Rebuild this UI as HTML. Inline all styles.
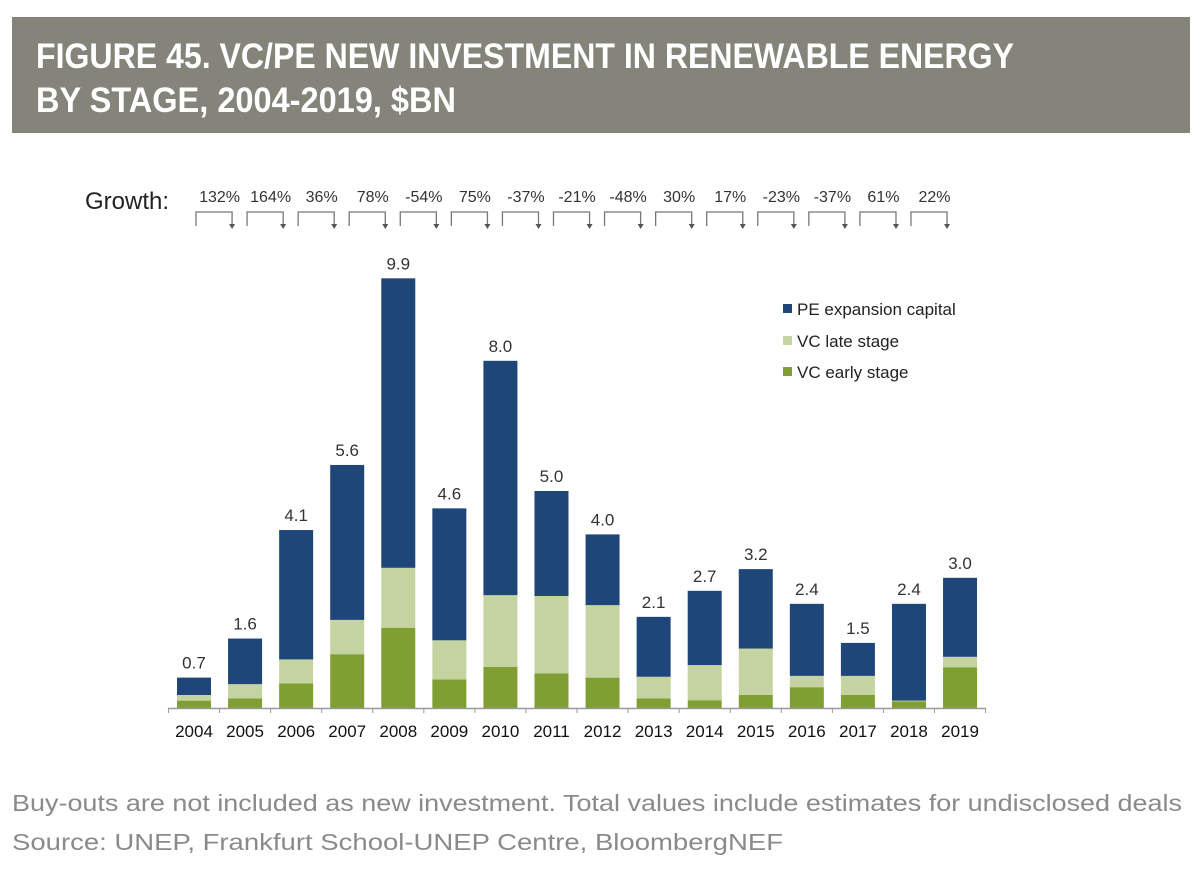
<!DOCTYPE html>
<html><head><meta charset="utf-8"><style>
body{margin:0;background:#fff;}
svg{display:block;font-family:"Liberation Sans",sans-serif;}
</style></head><body>
<svg id="chart" width="1202" height="876" viewBox="0 0 1202 876" xmlns="http://www.w3.org/2000/svg">
<rect x="12" y="17" width="1178" height="116" fill="#84847a"/>
<text x="36" y="68" fill="#fff" font-family="Liberation Sans Narrow, Liberation Sans, sans-serif" font-weight="bold" font-size="35" textLength="978" lengthAdjust="spacingAndGlyphs">FIGURE 45. VC/PE NEW INVESTMENT IN RENEWABLE ENERGY</text>
<text x="36" y="112" fill="#fff" font-family="Liberation Sans Narrow, Liberation Sans, sans-serif" font-weight="bold" font-size="35" textLength="420" lengthAdjust="spacingAndGlyphs">BY STAGE, 2004-2019, $BN</text>
<text x="85" y="209" font-size="24" fill="#222">Growth:</text>
<g id="growth"></g>
<g id="bars"></g>
<g id="axis"></g>
<g>
 <rect x="783" y="304" width="9" height="9" fill="#1f4678"/>
 <text x="797" y="315" font-size="17" fill="#222">PE expansion capital</text>
 <rect x="783" y="336" width="9" height="9" fill="#c5d3a0"/>
 <text x="797" y="347" font-size="17" fill="#222">VC late stage</text>
 <rect x="783" y="367" width="9" height="9" fill="#7f9f32"/>
 <text x="797" y="378" font-size="17" fill="#222">VC early stage</text>
</g>
<text x="12" y="811" font-size="23" fill="#8a8a8a" textLength="1170" lengthAdjust="spacingAndGlyphs">Buy-outs are not included as new investment. Total values include estimates for undisclosed deals</text>
<text x="12" y="850" font-size="23" fill="#8a8a8a" textLength="771" lengthAdjust="spacingAndGlyphs">Source: UNEP, Frankfurt School-UNEP Centre, BloombergNEF</text>
</svg>
<script>
const years=["2004","2005","2006","2007","2008","2009","2010","2011","2012","2013","2014","2015","2016","2017","2018","2019"];
const early=[0.17,0.22,0.57,1.24,1.85,0.66,0.95,0.8,0.7,0.22,0.18,0.3,0.48,0.3,0.15,0.94];
const late=[0.13,0.33,0.55,0.79,1.38,0.9,1.65,1.78,1.67,0.5,0.81,1.07,0.26,0.44,0.02,0.24];
const pe=[0.4,1.05,2.98,3.57,6.67,3.04,5.4,2.42,1.63,1.38,1.71,1.83,1.66,0.76,2.23,1.82];
const totals=["0.7","1.6","4.1","5.6","9.9","4.6","8.0","5.0","4.0","2.1","2.7","3.2","2.4","1.5","2.4","3.0"];
const growth=["132%","164%","36%","78%","-54%","75%","-37%","-21%","-48%","30%","17%","-23%","-37%","61%","22%"];
const NS="http://www.w3.org/2000/svg";
const base=708,k=43.4,x0=194,step=51.07,bw=34;
const X=i=>x0+i*step, Y=v=>base-v*k;
function mk(tag,attrs,parent){const e=document.createElementNS(NS,tag);for(const a in attrs)e.setAttribute(a,attrs[a]);parent.appendChild(e);return e;}
const gb=document.getElementById('bars'),ga=document.getElementById('axis'),gg=document.getElementById('growth');
const cols=["#7f9f32","#c5d3a0","#1f4678"],names=["early","late","pe"];
years.forEach((yr,i)=>{
 const segs=[early[i],late[i],pe[i]];let acc=0;
 segs.forEach((v,s)=>{
  const r=mk('rect',{x:X(i)-bw/2,y:Y(acc+v),width:bw,height:v*k,fill:cols[s]},gb);
  
  
  acc+=v;
 });
 const t=mk('text',{x:X(i),y:Y(acc)-9,'text-anchor':'middle','font-size':'17',fill:'#333'},gb);
 t.textContent=totals[i];
 
 
 const yl=mk('text',{x:X(i),y:737,'text-anchor':'middle','font-size':'17',fill:'#111'},ga);
 yl.textContent=yr;
 
 
});
const al=mk('line',{x1:168,y1:base+0.5,x2:986,y2:base+0.5,stroke:'#999','stroke-width':1.5},ga);


for(let i=0;i<=years.length;i++){
 const tx=X(i)-step/2;
 const tk=mk('line',{x1:tx,y1:base,x2:tx,y2:base+5,stroke:'#999','stroke-width':1},ga);
 
 
}
growth.forEach((g,i)=>{
 const cx=(X(i)+X(i+1))/2;
 const t=mk('text',{x:cx,y:202,'text-anchor':'middle','font-size':'16',fill:'#333'},gg);
 t.textContent=g;
 
 
 const l=X(i)+2,r=X(i+1)-13;
 const p=mk('path',{d:`M${l} 226 V212 H${r} V225`,fill:'none',stroke:'#777','stroke-width':1.3},gg);
 
 
 const a=mk('path',{d:`M${r-3} 224 L${r+3} 224 L${r} 229 Z`,fill:'#555'},gg);
 
 
});
</script>
</body></html>
